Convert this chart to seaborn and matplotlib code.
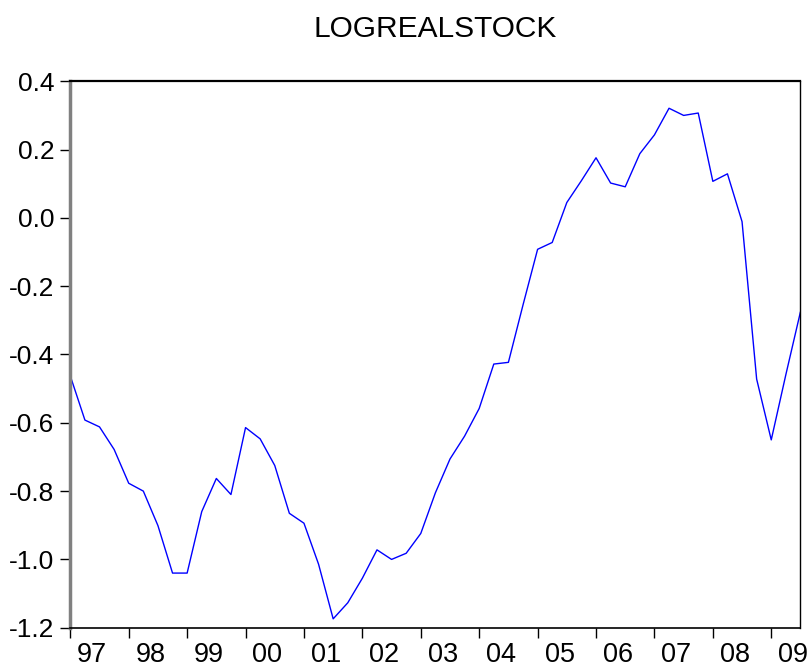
import numpy as np
import pandas as pd
import seaborn as sns
import matplotlib.pyplot as plt
from matplotlib.ticker import FixedLocator

# Quarterly log real stock index, 1997Q1 - 2009Q3
quarters = pd.period_range('1997Q1', '2009Q3', freq='Q').astype(str)
logrealstock = [
    -0.463, -0.592, -0.612, -0.678, -0.777, -0.800, -0.901, -1.040,
    -1.040, -0.860, -0.763, -0.810, -0.614, -0.647, -0.725, -0.865,
    -0.894, -1.014, -1.174, -1.127, -1.055, -0.972, -1.000, -0.982,
    -0.924, -0.805, -0.706, -0.639, -0.558, -0.428, -0.423, -0.255,
    -0.092, -0.072, 0.045, 0.109, 0.176, 0.102, 0.091, 0.188,
    0.243, 0.321, 0.300, 0.307, 0.107, 0.129, -0.011, -0.472,
    -0.650, -0.459, -0.275,
]
year_labels = ['97', '98', '99', '00', '01', '02', '03', '04',
               '05', '06', '07', '08', '09']
y_ticks = [0.4, 0.2, 0.0, -0.2, -0.4, -0.6, -0.8, -1.0, -1.2]


def main():
    df = pd.DataFrame({'quarter': quarters, 'value': logrealstock})
    df['t'] = np.arange(len(df))

    sns.set_theme(style="white")
    plt.rcParams['font.family'] = ['Liberation Sans', 'DejaVu Sans']

    fig = plt.figure(figsize=(8.11, 6.70), dpi=100)
    ax = fig.add_axes([0.0867, 0.0631, 0.9003, 0.8156])

    sns.lineplot(data=df, x='t', y='value', ax=ax, color='#0000FF', linewidth=1.0)

    ax.set_xlim(0, len(df) - 1)
    ax.set_ylim(-1.2, 0.4)
    ax.set_xlabel('')
    ax.set_ylabel('')
    ax.set_title('LOGREALSTOCK', fontsize=21.5, pad=32, color='black')

    # year boundaries get the tick marks, year labels sit inside each year
    ax.xaxis.set_major_locator(FixedLocator(np.arange(0, len(df), 4)))
    ax.set_xticklabels([])
    ax.xaxis.set_minor_locator(FixedLocator(np.arange(len(year_labels)) * 4 + 1.5))
    ax.set_xticklabels(year_labels, minor=True)
    ax.tick_params(axis='x', which='major', direction='out', length=7.5, width=1,
                   color='black', bottom=True)
    ax.tick_params(axis='x', which='minor', length=0, labelsize=19.5, pad=10.5,
                   labelcolor='black', bottom=True)

    ax.set_yticks(y_ticks)
    ax.set_yticklabels([f'{v:.1f}' for v in y_ticks])
    ax.tick_params(axis='y', direction='out', length=7.5, width=1, color='black',
                   labelsize=19, pad=4, labelcolor='black', left=True)

    # EViews look: grey heavy left edge, black frame elsewhere
    ax.spines['left'].set_color('#808080')
    ax.spines['left'].set_linewidth(2.5)
    ax.spines['top'].set_color('black')
    ax.spines['top'].set_linewidth(1.6)
    ax.spines['bottom'].set_color('black')
    ax.spines['bottom'].set_linewidth(1.2)
    ax.spines['right'].set_color('black')
    ax.spines['right'].set_linewidth(1.0)
    ax.grid(False)

    fig.savefig('out.png', dpi=100)


if __name__ == "__main__":
    main()
